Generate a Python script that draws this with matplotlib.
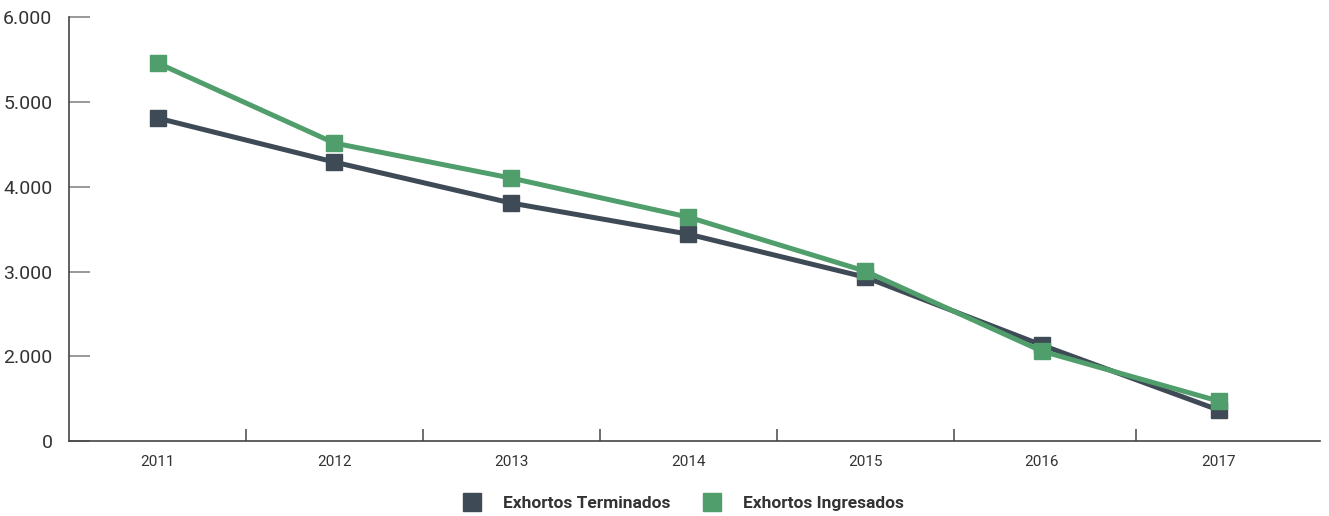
import matplotlib.pyplot as plt
from matplotlib.lines import Line2D
from matplotlib.ticker import FixedLocator

plt.rcParams['font.family'] = ['Roboto', 'DejaVu Sans']

years = ['2011', '2012', '2013', '2014', '2015', '2016', '2017']
terminados = [4809, 4290, 3807, 3441, 2934, 2132, 1366]
ingresados = [5458, 4514, 4101, 3642, 3005, 2061, 1472]

ytick_vals = [1000, 2000, 3000, 4000, 5000, 6000]
ytick_labels = ['0', '2.000', '3.000', '4.000', '5.000', '6.000']

dark = '#3e4a55'
green = '#4f9e6b'
text_col = '#333333'

fig = plt.figure(figsize=(13.29, 5.16), dpi=100)
ax = fig.add_axes([0.052, 0.145, 0.941, 0.822])

x = list(range(len(years)))
ax.plot(x, terminados, color=dark, lw=3.6, marker='s', ms=11, zorder=3)
ax.plot(x, ingresados, color=green, lw=3.6, marker='s', ms=11, zorder=4)

ax.set_xlim(-0.5, 6.57)
ax.set_ylim(1000, 6000)

ax.spines['top'].set_visible(False)
ax.spines['right'].set_visible(False)
for s in ['left', 'bottom']:
    ax.spines[s].set_color('#444444')
    ax.spines[s].set_linewidth(1.2)

ax.set_yticks(ytick_vals)
ax.set_yticklabels(ytick_labels)
ax.tick_params(axis='y', direction='in', length=15, width=1.2, color='#888888',
               pad=12, labelsize=14, labelcolor=text_col)

ax.set_xticks(x)
ax.set_xticklabels(years)
ax.tick_params(axis='x', which='major', length=0, pad=10, labelsize=11, labelcolor=text_col)
ax.xaxis.set_minor_locator(FixedLocator([0.5, 1.5, 2.5, 3.5, 4.5, 5.53]))
ax.tick_params(axis='x', which='minor', direction='in', length=9, width=1.2, color='#555555')

handles = [Line2D([], [], color=dark, marker='s', ls='none', ms=13),
           Line2D([], [], color=green, marker='s', ls='none', ms=13)]
leg = fig.legend(handles, ['Exhortos Terminados', 'Exhortos Ingresados'],
                 loc='center', bbox_to_anchor=(0.511, 0.025), ncol=2, frameon=False,
                 prop={'size': 12.5, 'weight': 'bold'}, handletextpad=0.8, columnspacing=1.4)
for t in leg.get_texts():
    t.set_color(text_col)

fig.savefig('out.png', dpi=100)
